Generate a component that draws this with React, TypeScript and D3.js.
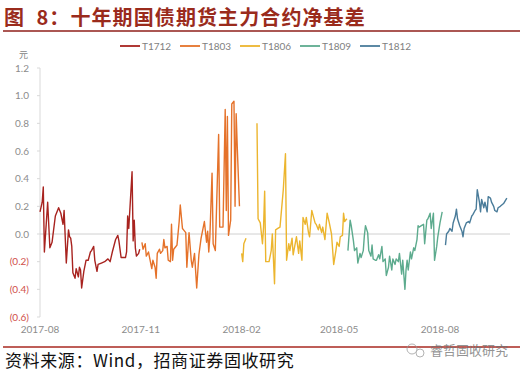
import React, { useEffect, useRef } from "react";
import * as d3 from "d3";

type Pt = [string, number | null];

// 十年期国债期货主力合约净基差 (元)
const t1712: Pt[] = [
  ["2017-08-01", 0.16], ["2017-08-03", 0.23], ["2017-08-04", 0.34], ["2017-08-05", -0.13],
  ["2017-08-08", 0.23], ["2017-08-10", -0.1], ["2017-08-12", -0.06], ["2017-08-15", 0.13],
  ["2017-08-18", 0.19], ["2017-08-20", 0.15], ["2017-08-22", 0.07], ["2017-08-23", 0.17],
  ["2017-08-25", -0.21], ["2017-08-27", 0.03], ["2017-08-28", -0.02], ["2017-08-29", -0.03],
  ["2017-08-30", -0.09], ["2017-08-31", -0.28], ["2017-09-02", -0.32], ["2017-09-03", -0.25],
  ["2017-09-05", -0.31], ["2017-09-06", -0.24], ["2017-09-07", -0.26], ["2017-09-08", -0.39],
  ["2017-09-10", -0.27], ["2017-09-12", -0.19], ["2017-09-14", -0.19], ["2017-09-16", -0.13],
  ["2017-09-17", -0.12], ["2017-09-19", -0.09], ["2017-09-20", -0.19], ["2017-09-22", -0.27],
  ["2017-09-23", -0.22], ["2017-09-26", -0.21], ["2017-09-29", -0.2], ["2017-10-02", -0.18],
  ["2017-10-04", -0.2], ["2017-10-06", -0.13], ["2017-10-09", -0.04], ["2017-10-11", -0.01],
  ["2017-10-12", -0.05], ["2017-10-14", -0.17], ["2017-10-18", -0.17], ["2017-10-19", -0.13],
  ["2017-10-20", 0.13], ["2017-10-21", 0.04], ["2017-10-24", 0.45], ["2017-10-25", -0.05],
  ["2017-10-26", 0.1], ["2017-10-27", -0.1], ["2017-10-28", -0.16], ["2017-10-30", -0.14],
  ["2017-10-31", -0.11],
];

const t1803: Pt[] = [
  ["2017-11-02", -0.06], ["2017-11-03", -0.11], ["2017-11-05", -0.07], ["2017-11-06", -0.16],
  ["2017-11-08", -0.13], ["2017-11-09", -0.17], ["2017-11-11", -0.25], ["2017-11-12", -0.19],
  ["2017-11-14", -0.24], ["2017-11-15", -0.32], ["2017-11-16", -0.14], ["2017-11-18", -0.11],
  ["2017-11-19", -0.14], ["2017-11-21", -0.12], ["2017-11-22", -0.04], ["2017-11-23", -0.1],
  ["2017-11-25", -0.09], ["2017-11-26", -0.19], ["2017-11-28", -0.2], ["2017-11-29", 0.07],
  ["2017-11-30", -0.19], ["2017-12-01", -0.11], ["2017-12-03", -0.09], ["2017-12-04", -0.08],
  ["2017-12-06", 0.09], ["2017-12-07", 0.21], ["2017-12-09", 0.04], ["2017-12-10", 0.03],
  ["2017-12-12", 0.01], ["2017-12-13", -0.24], ["2017-12-15", 0.01], ["2017-12-17", -0.19],
  ["2017-12-18", -0.24], ["2017-12-20", -0.14], ["2017-12-22", -0.39], ["2017-12-24", -0.15],
  ["2017-12-26", -0.03], ["2017-12-29", 0.09], ["2017-12-31", -0.06], ["2018-01-01", 0.02],
  ["2018-01-02", -0.13], ["2018-01-03", -0.02], ["2018-01-05", 0.44], ["2018-01-06", -0.07],
  ["2018-01-08", -0.12], ["2018-01-11", 0.72], ["2018-01-12", 0.05], ["2018-01-15", 0.05],
  ["2018-01-17", 0.9], ["2018-01-18", 0.17], ["2018-01-19", 0.85], ["2018-01-20", -0.01],
  ["2018-01-22", 0.1], ["2018-01-23", 0.94], ["2018-01-25", 0.96], ["2018-01-26", 0.2],
  ["2018-01-27", 0.87], ["2018-01-28", 0.63], ["2018-01-30", 0.2],
];

const t1806: Pt[] = [
  ["2018-02-01", -0.14], ["2018-02-02", -0.2], ["2018-02-03", -0.07], ["2018-02-05", -0.03],
  ["2018-02-10", null],
  ["2018-02-15", 0.8], ["2018-02-16", 0.11], ["2018-02-18", 0.08], ["2018-02-20", -0.07],
  ["2018-02-21", 0.05], ["2018-02-22", 0.31], ["2018-02-23", -0.2], ["2018-02-26", -0.2],
  ["2018-02-28", -0.12], ["2018-03-01", 0.0], ["2018-03-03", -0.36], ["2018-03-04", 0.03],
  ["2018-03-06", 0.04], ["2018-03-08", 0.05], ["2018-03-11", 0.32], ["2018-03-13", 0.58],
  ["2018-03-14", -0.19], ["2018-03-16", -0.07], ["2018-03-17", -0.12], ["2018-03-19", -0.03],
  ["2018-03-20", -0.15], ["2018-03-23", -0.02], ["2018-03-25", -0.14], ["2018-03-26", -0.05],
  ["2018-03-28", -0.19], ["2018-03-29", 0.12], ["2018-03-31", 0.07], ["2018-04-01", 0.12],
  ["2018-04-03", 0.01], ["2018-04-04", -0.02], ["2018-04-06", 0.17], ["2018-04-07", 0.14],
  ["2018-04-09", 0.08], ["2018-04-10", 0.07], ["2018-04-12", 0.03], ["2018-04-13", 0.07],
  ["2018-04-15", 0.01], ["2018-04-16", 0.05], ["2018-04-18", -0.04], ["2018-04-20", 0.15],
  ["2018-04-22", 0.08], ["2018-04-24", 0.0], ["2018-04-26", -0.22], ["2018-04-28", -0.12],
  ["2018-04-29", -0.06], ["2018-05-01", -0.09], ["2018-05-02", -0.02], ["2018-05-04", -0.01],
  ["2018-05-05", 0.15], ["2018-05-06", 0.09], ["2018-05-08", 0.11],
];

const t1809: Pt[] = [
  ["2018-05-09", -0.12], ["2018-05-11", 0.1], ["2018-05-12", 0.06], ["2018-05-14", -0.05],
  ["2018-05-15", -0.12], ["2018-05-17", -0.1], ["2018-05-18", -0.21], ["2018-05-20", -0.14],
  ["2018-05-21", -0.17], ["2018-05-23", -0.12], ["2018-05-24", -0.01], ["2018-05-25", 0.06],
  ["2018-05-27", 0.01], ["2018-05-28", -0.12], ["2018-05-30", -0.16], ["2018-05-31", -0.08],
  ["2018-06-01", -0.18], ["2018-06-03", -0.19], ["2018-06-04", -0.19], ["2018-06-06", -0.15],
  ["2018-06-07", -0.18], ["2018-06-09", -0.09], ["2018-06-10", -0.2], ["2018-06-12", -0.18],
  ["2018-06-13", -0.3], ["2018-06-15", -0.24], ["2018-06-16", -0.16], ["2018-06-18", -0.26],
  ["2018-06-19", -0.18], ["2018-06-21", -0.22], ["2018-06-22", -0.18], ["2018-06-24", -0.2],
  ["2018-06-25", -0.14], ["2018-06-27", -0.29], ["2018-06-28", -0.19], ["2018-06-30", -0.4],
  ["2018-07-01", -0.26], ["2018-07-02", -0.19], ["2018-07-03", -0.26], ["2018-07-05", -0.13],
  ["2018-07-06", -0.18], ["2018-07-08", -0.1], ["2018-07-09", -0.12], ["2018-07-11", -0.04],
  ["2018-07-12", 0.06], ["2018-07-13", 0.05], ["2018-07-15", 0.06], ["2018-07-17", 0.07],
  ["2018-07-18", -0.07], ["2018-07-20", 0.1], ["2018-07-21", 0.11], ["2018-07-23", 0.15],
  ["2018-07-24", 0.04], ["2018-07-26", 0.15], ["2018-07-27", -0.19], ["2018-07-29", -0.09],
  ["2018-07-30", -0.02], ["2018-08-01", 0.08], ["2018-08-03", 0.16],
];

const t1812: Pt[] = [
  ["2018-08-06", -0.08], ["2018-08-07", 0.0], ["2018-08-09", 0.02], ["2018-08-10", 0.04],
  ["2018-08-12", 0.02], ["2018-08-13", 0.08], ["2018-08-15", 0.13], ["2018-08-16", 0.18],
  ["2018-08-17", 0.11], ["2018-08-19", 0.06], ["2018-08-21", 0.02], ["2018-08-22", -0.02],
  ["2018-08-23", 0.04], ["2018-08-25", 0.08], ["2018-08-27", 0.09], ["2018-08-28", 0.08],
  ["2018-08-30", 0.13], ["2018-08-31", 0.14], ["2018-09-02", 0.17], ["2018-09-03", 0.18],
  ["2018-09-04", 0.32], ["2018-09-06", 0.23], ["2018-09-07", 0.16], ["2018-09-08", 0.25],
  ["2018-09-10", 0.19], ["2018-09-11", 0.23], ["2018-09-13", 0.16], ["2018-09-14", 0.27],
  ["2018-09-16", 0.26], ["2018-09-17", 0.23], ["2018-09-19", 0.2], ["2018-09-20", 0.17],
  ["2018-09-22", 0.16], ["2018-09-23", 0.19], ["2018-09-25", 0.2], ["2018-09-28", 0.22],
  ["2018-10-01", 0.26],
];

const seriesNames = ["T1712", "T1803", "T1806", "T1809", "T1812"];
const seriesData = [t1712, t1803, t1806, t1809, t1812];
const seriesColors = ["#a8231f", "#e5722a", "#ecb52e", "#5dab8e", "#4a7c9a"];

const yTicks = [1.2, 1.0, 0.8, 0.6, 0.4, 0.2, 0.0, -0.2, -0.4, -0.6];
const xTicks = ["2017-08-01", "2017-11-01", "2018-02-01", "2018-05-01", "2018-08-01"];

const title = "图  8：十年期国债期货主力合约净基差";
const source = "资料来源：Wind，招商证券固收研究";
const watermark = "睿哲固收研究";

export default function App() {
  const svgRef = useRef<SVGSVGElement>(null);

  useEffect(() => {
    const width = 522;
    const height = 373;
    const svg = d3.select(svgRef.current);
    svg.selectAll("*").remove();
    svg.attr("viewBox", `0 0 ${width} ${height}`);

    const parse = d3.utcParse("%Y-%m-%d");
    const font = "Lato, 'DejaVu Sans', sans-serif";
    const cjk = "'Noto Sans CJK SC', sans-serif";

    const xScale = d3
      .scaleUtc()
      .domain([parse("2017-08-01")!, parse("2018-08-01")!])
      .range([40, 440]);
    const yScale = d3.scaleLinear().domain([-0.6, 1.2]).range([317, 68]);

    // title + rules
    svg
      .append("text")
      .attr("x", 4)
      .attr("y", 25)
      .attr("font-family", cjk)
      .attr("font-weight", "bold")
      .attr("font-size", 20)
      .attr("letter-spacing", 1.1)
      .attr("fill", "#9a2b1c")
      .attr("xml:space", "preserve")
      .text(title);
    svg.append("line").attr("x1", 3).attr("x2", 520).attr("y1", 31).attr("y2", 31)
      .attr("stroke", "#8f1f1a").attr("stroke-width", 1.5);
    svg.append("line").attr("x1", 3).attr("x2", 520).attr("y1", 347).attr("y2", 347)
      .attr("stroke", "#a82820").attr("stroke-width", 1.5);

    // legend
    const legend = svg.append("g");
    seriesNames.forEach((name, i) => {
      const x0 = 120 + i * 60;
      legend.append("line").attr("x1", x0).attr("x2", x0 + 20).attr("y1", 46).attr("y2", 46)
        .attr("stroke", seriesColors[i]).attr("stroke-width", 1.8);
      legend.append("text").attr("x", x0 + 22).attr("y", 49.5)
        .attr("font-family", font).attr("font-size", 10).attr("fill", "#7f7f7f").text(name);
    });

    // y axis
    svg.append("text").attr("x", 28).attr("y", 58).attr("text-anchor", "end")
      .attr("font-family", cjk).attr("font-size", 9).attr("fill", "#7f7f7f").text("元");
    svg.append("line").attr("x1", 40).attr("x2", 40).attr("y1", yScale(1.2)).attr("y2", yScale(-0.6))
      .attr("stroke", "#d9d9d9");
    const fmt = (v: number) => (v < 0 ? `(${d3.format(".1f")(-v)})` : d3.format(".1f")(v));
    yTicks.forEach((v) => {
      svg.append("line").attr("x1", 37).attr("x2", 40).attr("y1", yScale(v)).attr("y2", yScale(v))
        .attr("stroke", "#d9d9d9");
      svg.append("text").attr("x", 29).attr("y", yScale(v) + 3.5).attr("text-anchor", "end")
        .attr("font-family", font).attr("font-size", 10)
        .attr("fill", v < 0 ? "#d0504a" : "#8c8c8c").text(fmt(v));
    });

    // zero line
    svg.append("line").attr("x1", 40).attr("x2", 510).attr("y1", yScale(0)).attr("y2", yScale(0))
      .attr("stroke", "#d0d0d0");

    // x labels
    const xfmt = d3.utcFormat("%Y-%m");
    xTicks.forEach((d) => {
      svg.append("text").attr("x", xScale(parse(d)!)).attr("y", 333).attr("text-anchor", "middle")
        .attr("font-family", font).attr("font-size", 10).attr("fill", "#8c8c8c").text(xfmt(parse(d)!));
    });

    const line = d3
      .line<Pt>()
      .defined((d) => d[1] !== null)
      .x((d) => xScale(parse(d[0])!))
      .y((d) => yScale(d[1] as number));

    seriesData.forEach((data, i) => {
      svg.append("path").datum(data).attr("d", line as any).attr("fill", "none")
        .attr("stroke", seriesColors[i]).attr("stroke-width", 1.4).attr("stroke-linejoin", "round");
    });

    // footer
    svg.append("text").attr("x", 5).attr("y", 367).attr("font-family", cjk).attr("font-size", 17)
      .attr("letter-spacing", 0.6).attr("fill", "#111").text(source);

    // watermark
    const wm = svg.append("g").attr("opacity", 0.75);
    wm.append("circle").attr("cx", 412).attr("cy", 349).attr("r", 5).attr("fill", "none").attr("stroke", "#9a9a9a");
    wm.append("circle").attr("cx", 420).attr("cy", 353).attr("r", 4).attr("fill", "none").attr("stroke", "#9a9a9a");
    wm.append("text").attr("x", 430).attr("y", 355).attr("font-family", cjk).attr("font-size", 13)
      .attr("fill", "#6f6f6f").text(watermark);
  }, []);

  return (
    <svg
      ref={svgRef}
      width={522}
      height={373}
      style={{ position: "absolute", left: 0, top: 0, background: "#fff" }}
    ></svg>
  );
}
